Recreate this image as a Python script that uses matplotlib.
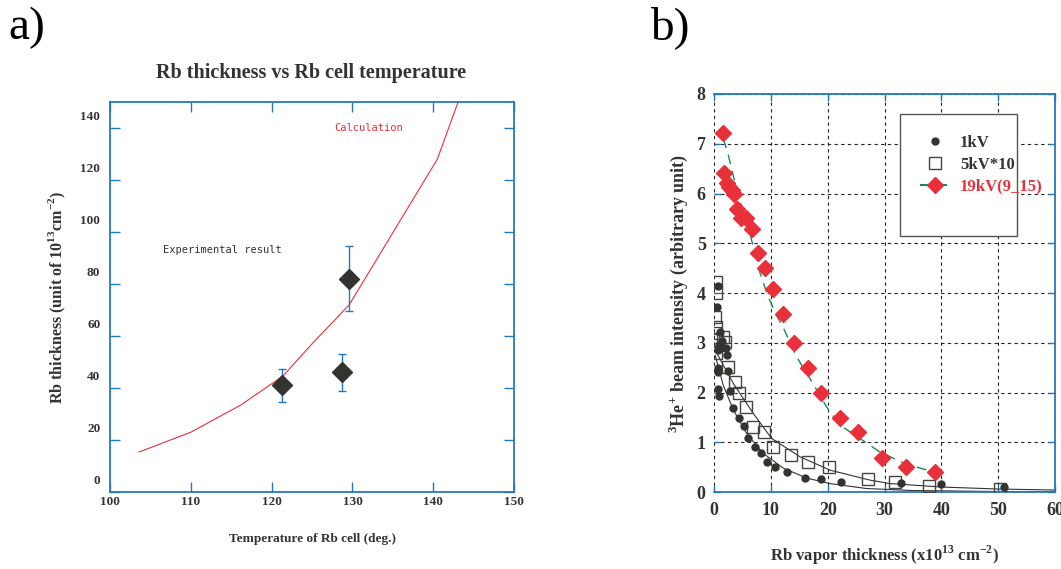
import numpy as np
import matplotlib
matplotlib.use('Agg')
import matplotlib.pyplot as plt
from matplotlib.lines import Line2D
from matplotlib.patches import Rectangle
from matplotlib.transforms import ScaledTranslation

plt.rcParams['mathtext.fontset'] = 'custom'
plt.rcParams['mathtext.rm'] = 'Liberation Serif'
plt.rcParams['mathtext.bf'] = 'Liberation Serif:bold'

# ---- panel a) data ----
calc_T = [103.6, 110, 116.2, 121.4, 125, 129.6, 140.5, 146]
calc_thick = [15.4, 23, 33.5, 44.6, 57, 72, 128, 175]
exp_T = [121.3, 128.7, 129.6]
exp_thick = [41, 46, 82]
exp_err = [6.5, 7, 12.5]

# ---- panel b) data ----
kv1_x = [0.65, 0.6, 1.05, 1.35, 0.75, 0.9, 1.3, 2.1, 2.3, 0.75, 0.65, 0.65, 0.93, 2.5, 2.8,
         3.4, 4.4, 5.3, 6.0, 7.2, 8.2, 9.4, 10.7, 12.8, 16.0, 18.9, 22.4, 32.9, 39.9, 51.0]
kv1_y = [4.14, 3.71, 3.22, 3.04, 2.85, 2.95, 2.9, 2.89, 2.75, 2.49, 2.42, 2.08, 1.93, 2.43, 2.04,
         1.68, 1.48, 1.33, 1.08, 0.91, 0.78, 0.6, 0.51, 0.4, 0.29, 0.26, 0.21, 0.19, 0.17, 0.11]
kv5_x = [0.35, 0.35, 0.2, 0.35, 0.2, 0.6, 1.6, 1.9, 0.35, 2.5, 3.6, 4.4, 5.6, 6.8, 8.8,
         10.4, 13.5, 16.5, 20.2, 27.0, 31.9, 37.8, 50.4]
kv5_y = [4.23, 4.0, 3.52, 3.32, 3.2, 3.05, 3.12, 3.02, 2.79, 2.52, 2.22, 2.0, 1.7, 1.31, 1.21,
         0.91, 0.74, 0.61, 0.51, 0.26, 0.21, 0.12, 0.07]
kv19_x = [1.6, 1.76, 2.3, 2.7, 3.1, 3.5, 4.1, 4.7, 5.6, 6.6, 7.7, 8.9, 10.35, 12.2,
          14.1, 16.5, 18.9, 22.1, 25.4, 29.5, 33.7, 38.8]
kv19_y = [7.21, 6.41, 6.22, 6.14, 6.07, 5.99, 5.69, 5.5, 5.5, 5.29, 4.81, 4.5, 4.09, 3.58,
          3.0, 2.5, 2.0, 1.49, 1.2, 0.69, 0.51, 0.40]
# fitted curves
fit19_x = [1.6, 2.3, 4.0, 6.3, 8.1, 9.5, 11.0, 12.2, 14.5, 17.4, 19.8, 22.1, 25.6, 29.1, 33.8, 38.5]
fit19_y = [7.1, 6.87, 6.07, 5.2, 4.4, 3.93, 3.55, 3.3, 2.72, 2.18, 1.71, 1.35, 1.08, 0.81, 0.56, 0.41]
fit5_x = [0.2, 3.4, 6.9, 10.1, 15.1, 20.4, 27.4, 30.9, 40, 50, 60]
fit5_y = [2.85, 2.18, 1.58, 1.08, 0.71, 0.44, 0.24, 0.17, 0.1, 0.06, 0.04]
fit1_x = [0.2, 1.6, 3.4, 5.7, 8.6, 12.2, 16.3, 20.4, 26.8, 35, 50, 60]
fit1_y = [2.75, 2.15, 1.65, 1.18, 0.78, 0.48, 0.28, 0.17, 0.07, 0.03, 0.01, 0.005]

blue = '#2479bd'
red = '#e8303a'
dark = '#333330'
green = '#1a8a5a'
serif = ['Liberation Serif', 'DejaVu Serif']

fig = plt.figure(figsize=(10.61, 5.69), dpi=100)

# ================= panel a =================
ax1 = fig.add_axes([0.1037, 0.1353, 0.3808, 0.6854])
ax1.plot(calc_T, calc_thick, color=red, lw=0.8)
ax1.errorbar(exp_T, exp_thick, yerr=exp_err, fmt='D', color=dark, ms=10,
             ecolor=blue, elinewidth=1, capsize=3, capthick=1)
ax1.set_xlim(100, 150)
ax1.set_ylim(0, 150)
ax1.set_xticks([100, 110, 120, 130, 140, 150])
ax1.set_yticks([0, 20, 40, 60, 80, 100, 120, 140])
ax1.tick_params(direction='in', length=7, width=1, color=blue, top=True, right=True,
                labelsize=9.5, labelcolor='#333333')
ax1.tick_params(axis='x', pad=3)
ax1.tick_params(axis='y', pad=7)
for lab in ax1.get_xticklabels() + ax1.get_yticklabels():
    lab.set_fontfamily(serif)
    lab.set_fontweight('bold')
for lab in ax1.get_yticklabels():
    lab.set_transform(lab.get_transform() + ScaledTranslation(0, 0.13, fig.dpi_scale_trans))
for sp in ax1.spines.values():
    sp.set_color(blue)
    sp.set_linewidth(1.3)

ax1.text(127.8, 140, 'Calculation', color=red, fontsize=7.5, family='DejaVu Sans Mono', va='center')
ax1.text(106.5, 93, 'Experimental result', color=dark, fontsize=7.5, family='DejaVu Sans Mono', va='center')
ax1.set_ylabel('Rb thickness (unit of 10$^{\\mathbf{13}}$cm$^{\\mathbf{-2}}$)', family=serif,
               fontweight='bold', fontsize=11.5, color='#333333', labelpad=9)
ax1.set_xlabel('Temperature of Rb cell (deg.)', family=serif, fontweight='bold',
               fontsize=9.5, color='#333333', labelpad=18)
fig.text(311 / 1061, 1 - 73 / 569, 'Rb thickness vs Rb cell temperature', family=serif,
         fontweight='bold', fontsize=14.5, color='#333333', ha='center', va='center')

# ================= panel b =================
ax2 = fig.add_axes([0.6730, 0.1353, 0.3214, 0.6995])
ax2.plot(fit5_x, fit5_y, color='#333333', lw=0.8, zorder=2)
ax2.plot(fit1_x, fit1_y, color='#333333', lw=0.8, zorder=2)
ax2.plot(fit19_x, fit19_y, color=green, lw=1, dashes=(7, 5), zorder=2)
ax2.plot(kv5_x, kv5_y, 's', ms=9, mfc='none', mec='#444444', mew=1, zorder=3)
ax2.plot(kv1_x, kv1_y, 'o', ms=5, color=dark, zorder=4)
ax2.plot(kv19_x, kv19_y, 'D', ms=8, color=red, mec=red, zorder=5)
ax2.set_xlim(0, 60)
ax2.set_ylim(0, 8)
ax2.set_xticks(range(0, 61, 10))
ax2.set_yticks(range(0, 9))
ax2.grid(True, color='#222222', ls=(0, (3, 3)), lw=0.8, zorder=0)
ax2.set_axisbelow(True)
ax2.tick_params(direction='in', length=5, width=1, color=blue, top=True, right=True,
                labelsize=13, labelcolor='#333333')
ax2.tick_params(axis='x', pad=7)
ax2.tick_params(axis='y', pad=6)
for lab in ax2.get_xticklabels() + ax2.get_yticklabels():
    lab.set_fontfamily(serif)
    lab.set_fontweight('bold')
ax2.spines['left'].set_visible(False)
for s in ['top', 'right', 'bottom']:
    ax2.spines[s].set_color(blue)
    ax2.spines[s].set_linewidth(1.3)

ax2.add_patch(Rectangle((0.545, 0.643), 0.344, 0.307, transform=ax2.transAxes,
                        facecolor='white', edgecolor='#555555', lw=1, zorder=6))
handles = [Line2D([], [], ls='none', marker='o', ms=5, color=dark),
           Line2D([], [], ls='none', marker='s', ms=9, mfc='none', mec='#444444'),
           Line2D([], [], color=green, dashes=(5, 3), marker='D', ms=8, mfc=red, mec=red)]
leg = ax2.legend(handles, ['1kV', '5kV*10', '19kV(9_15)'], loc='upper left',
                 bbox_to_anchor=(0.56, 0.935), frameon=False, handlelength=1.8,
                 handletextpad=0.6, labelspacing=0.35, prop={'family': serif, 'weight': 'bold', 'size': 12})
leg.set_zorder(7)
for t, c in zip(leg.get_texts(), ['#333333', '#333333', red]):
    t.set_color(c)

ax2.set_ylabel('$^{\\mathbf{3}}$He$^{\\mathbf{+}}$ beam intensity (arbitrary unit)', family=serif,
               fontweight='bold', fontsize=13, color='#333333', labelpad=5)
ax2.set_xlabel('Rb vapor thickness (x10$^{\\mathbf{13}}$ cm$^{\\mathbf{-2}}$)', family=serif,
               fontweight='bold', fontsize=12, color='#333333', labelpad=18)

fig.text(8 / 1061, 1 - 28 / 569, 'a)', family=serif, fontsize=34, va='center', ha='left')
fig.text(650 / 1061, 1 - 28 / 569, 'b)', family=serif, fontsize=34, va='center', ha='left')

plt.savefig('out.png', dpi=100)
